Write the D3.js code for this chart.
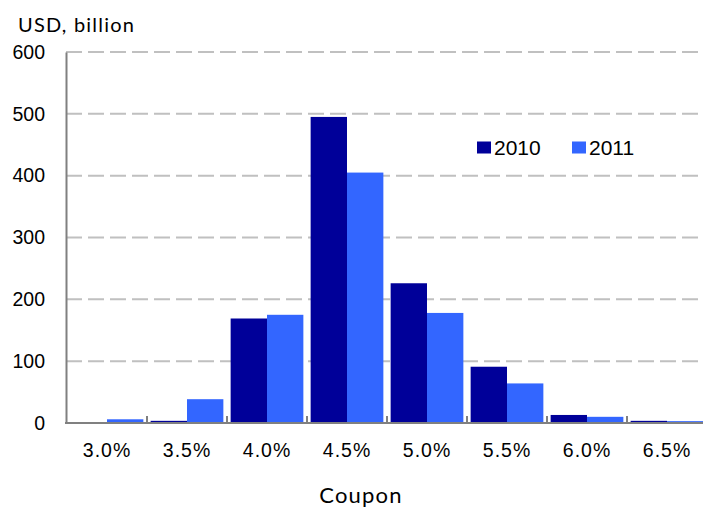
<!DOCTYPE html>
<html>
<head>
<meta charset="utf-8">
<script src="https://cdn.jsdelivr.net/npm/d3@7"></script>
<style>
  html, body { margin: 0; padding: 0; background: #fff; }
  svg { display: block; }
</style>
</head>
<body>
<svg id="chart" width="703" height="508"></svg>
<script>
// Issuance by coupon, USD billion
const coupons = ["3.0%", "3.5%", "4.0%", "4.5%", "5.0%", "5.5%", "6.0%", "6.5%"];
const seriesNames = ["2010", "2011"];
const values2010 = [0, 3.5, 169, 495, 226, 91, 13, 3.5];
const values2011 = [6, 38.5, 175, 405, 178, 64, 10, 3];
const yTicks = [0, 100, 200, 300, 400, 500, 600];
const colors = ["#000099", "#3366FF"];

const svg = d3.select("#chart");
const x0 = 67, step = 80;
const x = d3.scaleBand().domain(coupons).range([x0, x0 + step * coupons.length]).paddingInner(0).paddingOuter(0);
const xs = d3.scaleBand().domain(seriesNames).range([0, x.bandwidth()]).paddingInner(0).paddingOuter(0.1);
const y = d3.scaleLinear().domain([0, 600]).range([423, 52]);

const numFont = "Liberation Sans, Arial, Helvetica, sans-serif";
const titleFont = "Lato, Open Sans, sans-serif";

// dashed gridlines
svg.append("g").selectAll("line").data(yTicks.filter(d => d > 0)).join("line")
  .attr("x1", 66).attr("x2", 703)
  .attr("y1", d => y(d)).attr("y2", d => y(d))
  .attr("stroke", "#c0c0c0").attr("stroke-width", 2)
  .attr("stroke-dasharray", "16,6");

// bars
const rows = coupons.map((c, i) => ({ c, vals: [values2010[i], values2011[i]] }));
const groups = svg.append("g").selectAll("g").data(rows).join("g")
  .attr("transform", d => `translate(${x(d.c)},0)`);
groups.selectAll("rect").data(d => d.vals.map((v, j) => ({ v, s: seriesNames[j], j })))
  .join("rect")
  .attr("x", d => xs(d.s))
  .attr("width", xs.bandwidth())
  .attr("y", d => y(d.v))
  .attr("height", d => y(0) - y(d.v))
  .attr("fill", d => colors[d.j]);

// y axis
const yAxis = d3.axisLeft(y).tickValues(yTicks).tickSize(0).tickPadding(21);
const gy = svg.append("g").attr("transform", "translate(66,0)").call(yAxis);
gy.attr("font-family", numFont).attr("font-size", 19.5);
gy.select(".domain").attr("stroke", "#808080").attr("stroke-width", 2);
gy.selectAll("text").attr("fill", "#000");

// x axis
const xAxis = d3.axisBottom(x).tickSize(0).tickPadding(20);
const gx = svg.append("g").attr("transform", "translate(0,423)").call(xAxis);
gx.attr("font-family", numFont).attr("font-size", 19.5);
gx.select(".domain").attr("stroke", "#808080").attr("stroke-width", 2).attr("d", "M65,0H703");
gx.selectAll("text").attr("fill", "#000").attr("letter-spacing", 1);

// category separators
svg.append("g").selectAll("line").data(coupons.slice(1)).join("line")
  .attr("x1", d => x(d)).attr("x2", d => x(d))
  .attr("y1", 416).attr("y2", 423)
  .attr("stroke", "#808080").attr("stroke-width", 2);

// unit label
svg.append("text").attr("x", 18).attr("y", 32)
  .attr("font-family", titleFont).attr("font-size", 20).attr("letter-spacing", 1.2)
  .text("USD, billion");

// axis title
svg.append("text").attr("x", 361).attr("y", 503).attr("text-anchor", "middle")
  .attr("font-family", titleFont).attr("font-size", 22).attr("letter-spacing", 1.2)
  .text("Coupon");

// legend
const legendX = [477, 572];
const lg = svg.append("g").selectAll("g").data(seriesNames).join("g")
  .attr("transform", (d, i) => `translate(${legendX[i]},141.5)`);
lg.append("rect").attr("width", 14).attr("height", 12).attr("fill", (d, i) => colors[i]);
lg.append("text").attr("x", 17).attr("y", 13.5).attr("font-family", numFont)
  .attr("font-size", 21).text(d => d);
</script>
</body>
</html>
